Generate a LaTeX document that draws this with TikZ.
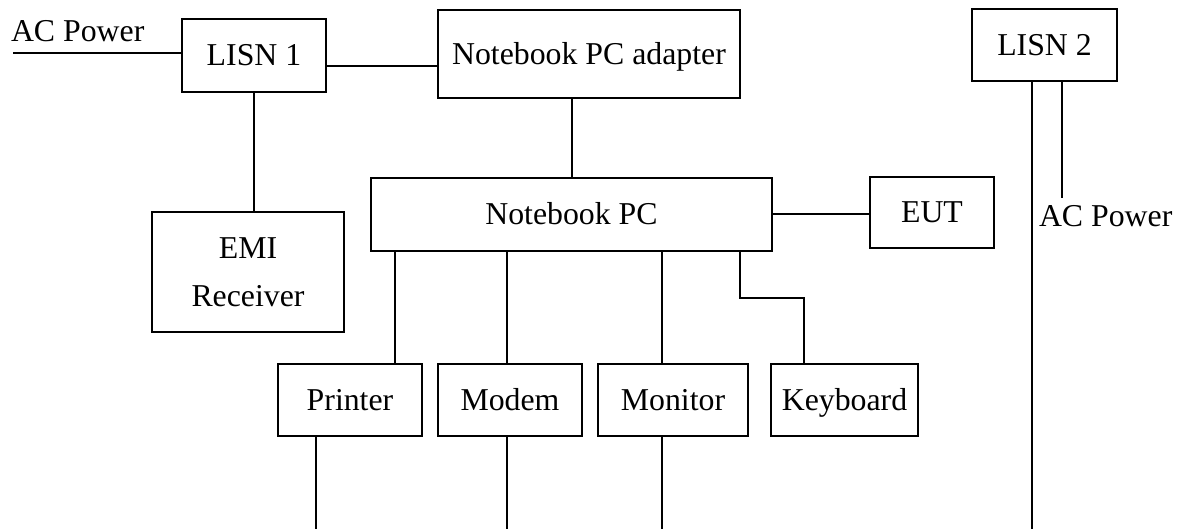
\documentclass[tikz,border=0pt]{standalone}
\usepackage{fontspec}
\setmainfont{Liberation Serif}
\begin{document}
\begin{tikzpicture}[x=0.5pt, y=-0.5pt, line width=1pt,
    unit/.style={draw, inner sep=0pt, font=\fontsize{15.9}{24}\selectfont, align=center,
      text height=10.5pt, text depth=0pt},
    lbl/.style={font=\fontsize{15.9}{24}\selectfont, inner sep=0pt, anchor=base west}]
  \useasboundingbox (0,0) rectangle (1182,529);
  % Units
  \node[unit, minimum width=72pt, minimum height=36.5pt] (lisnA) at (254,55.5) {LISN 1};
  \node[unit, minimum width=151pt, minimum height=44pt] (adapter) at (589,54) {Notebook PC adapter};
  \node[unit, minimum width=200.5pt, minimum height=36.5pt] (npc) at (571.5,214.5) {Notebook PC};
  \node[unit, minimum width=62pt, minimum height=35.5pt] (eut) at (932,212.5) {EUT};
  \node[unit, minimum width=72.5pt, minimum height=36pt] (lisnB) at (1044.5,45) {LISN 2};
  \node[unit, minimum width=96pt, minimum height=60pt, text height=34.5pt] (emi) at (248,272) {EMI\\Receiver};
  \node[unit, minimum width=72pt, minimum height=36pt] (printer) at (350,400) {Printer};
  \node[unit, minimum width=72pt, minimum height=36pt] (modem) at (510,400) {Modem};
  \node[unit, minimum width=75pt, minimum height=36pt] (monitor) at (673,400) {Monitor};
  \node[unit, minimum width=73.5pt, minimum height=36pt] (keyboard) at (844.5,400) {Keyboard};
  % Mains
  \coordinate (acA) at (13,53);
  \coordinate (acB) at (1062,198);
  \node[lbl] (acAtext) at (10,42) {AC Power};
  \node[lbl] (acBtext) at (1038,227) {AC Power};
  \draw (acA) -- (acA -| lisnA.west);
  \draw (lisnB.south -| acB) -- (acB);
  \draw (lisnA.east |- 0,66) -- (adapter.west |- 0,66);
  \draw (lisnA.south) -- (lisnA.south |- emi.north);
  \draw (adapter.south -| 572,0) -- (npc.north -| 572,0);
  \draw (npc.east) -- (npc.east -| eut.west);
  % Peripherals
  \draw (npc.south -| 395,0) -- (printer.north -| 395,0);
  \draw (npc.south -| 507,0) -- (modem.north -| 507,0);
  \draw (npc.south -| 662,0) -- (monitor.north -| 662,0);
  \draw (npc.south -| 740,0) -- (740,298) -- (804,298) -- (keyboard.north -| 804,0);
  % Cables to floor
  \coordinate (floorA) at (316,529);
  \coordinate (floorB) at (507,529);
  \coordinate (floorC) at (662,529);
  \coordinate (floorD) at (1032,529);
  \draw (printer.south -| floorA) -- (floorA);
  \draw (modem.south -| floorB) -- (floorB);
  \draw (monitor.south -| floorC) -- (floorC);
  \draw (lisnB.south -| floorD) -- (floorD);
\end{tikzpicture}
\end{document}
